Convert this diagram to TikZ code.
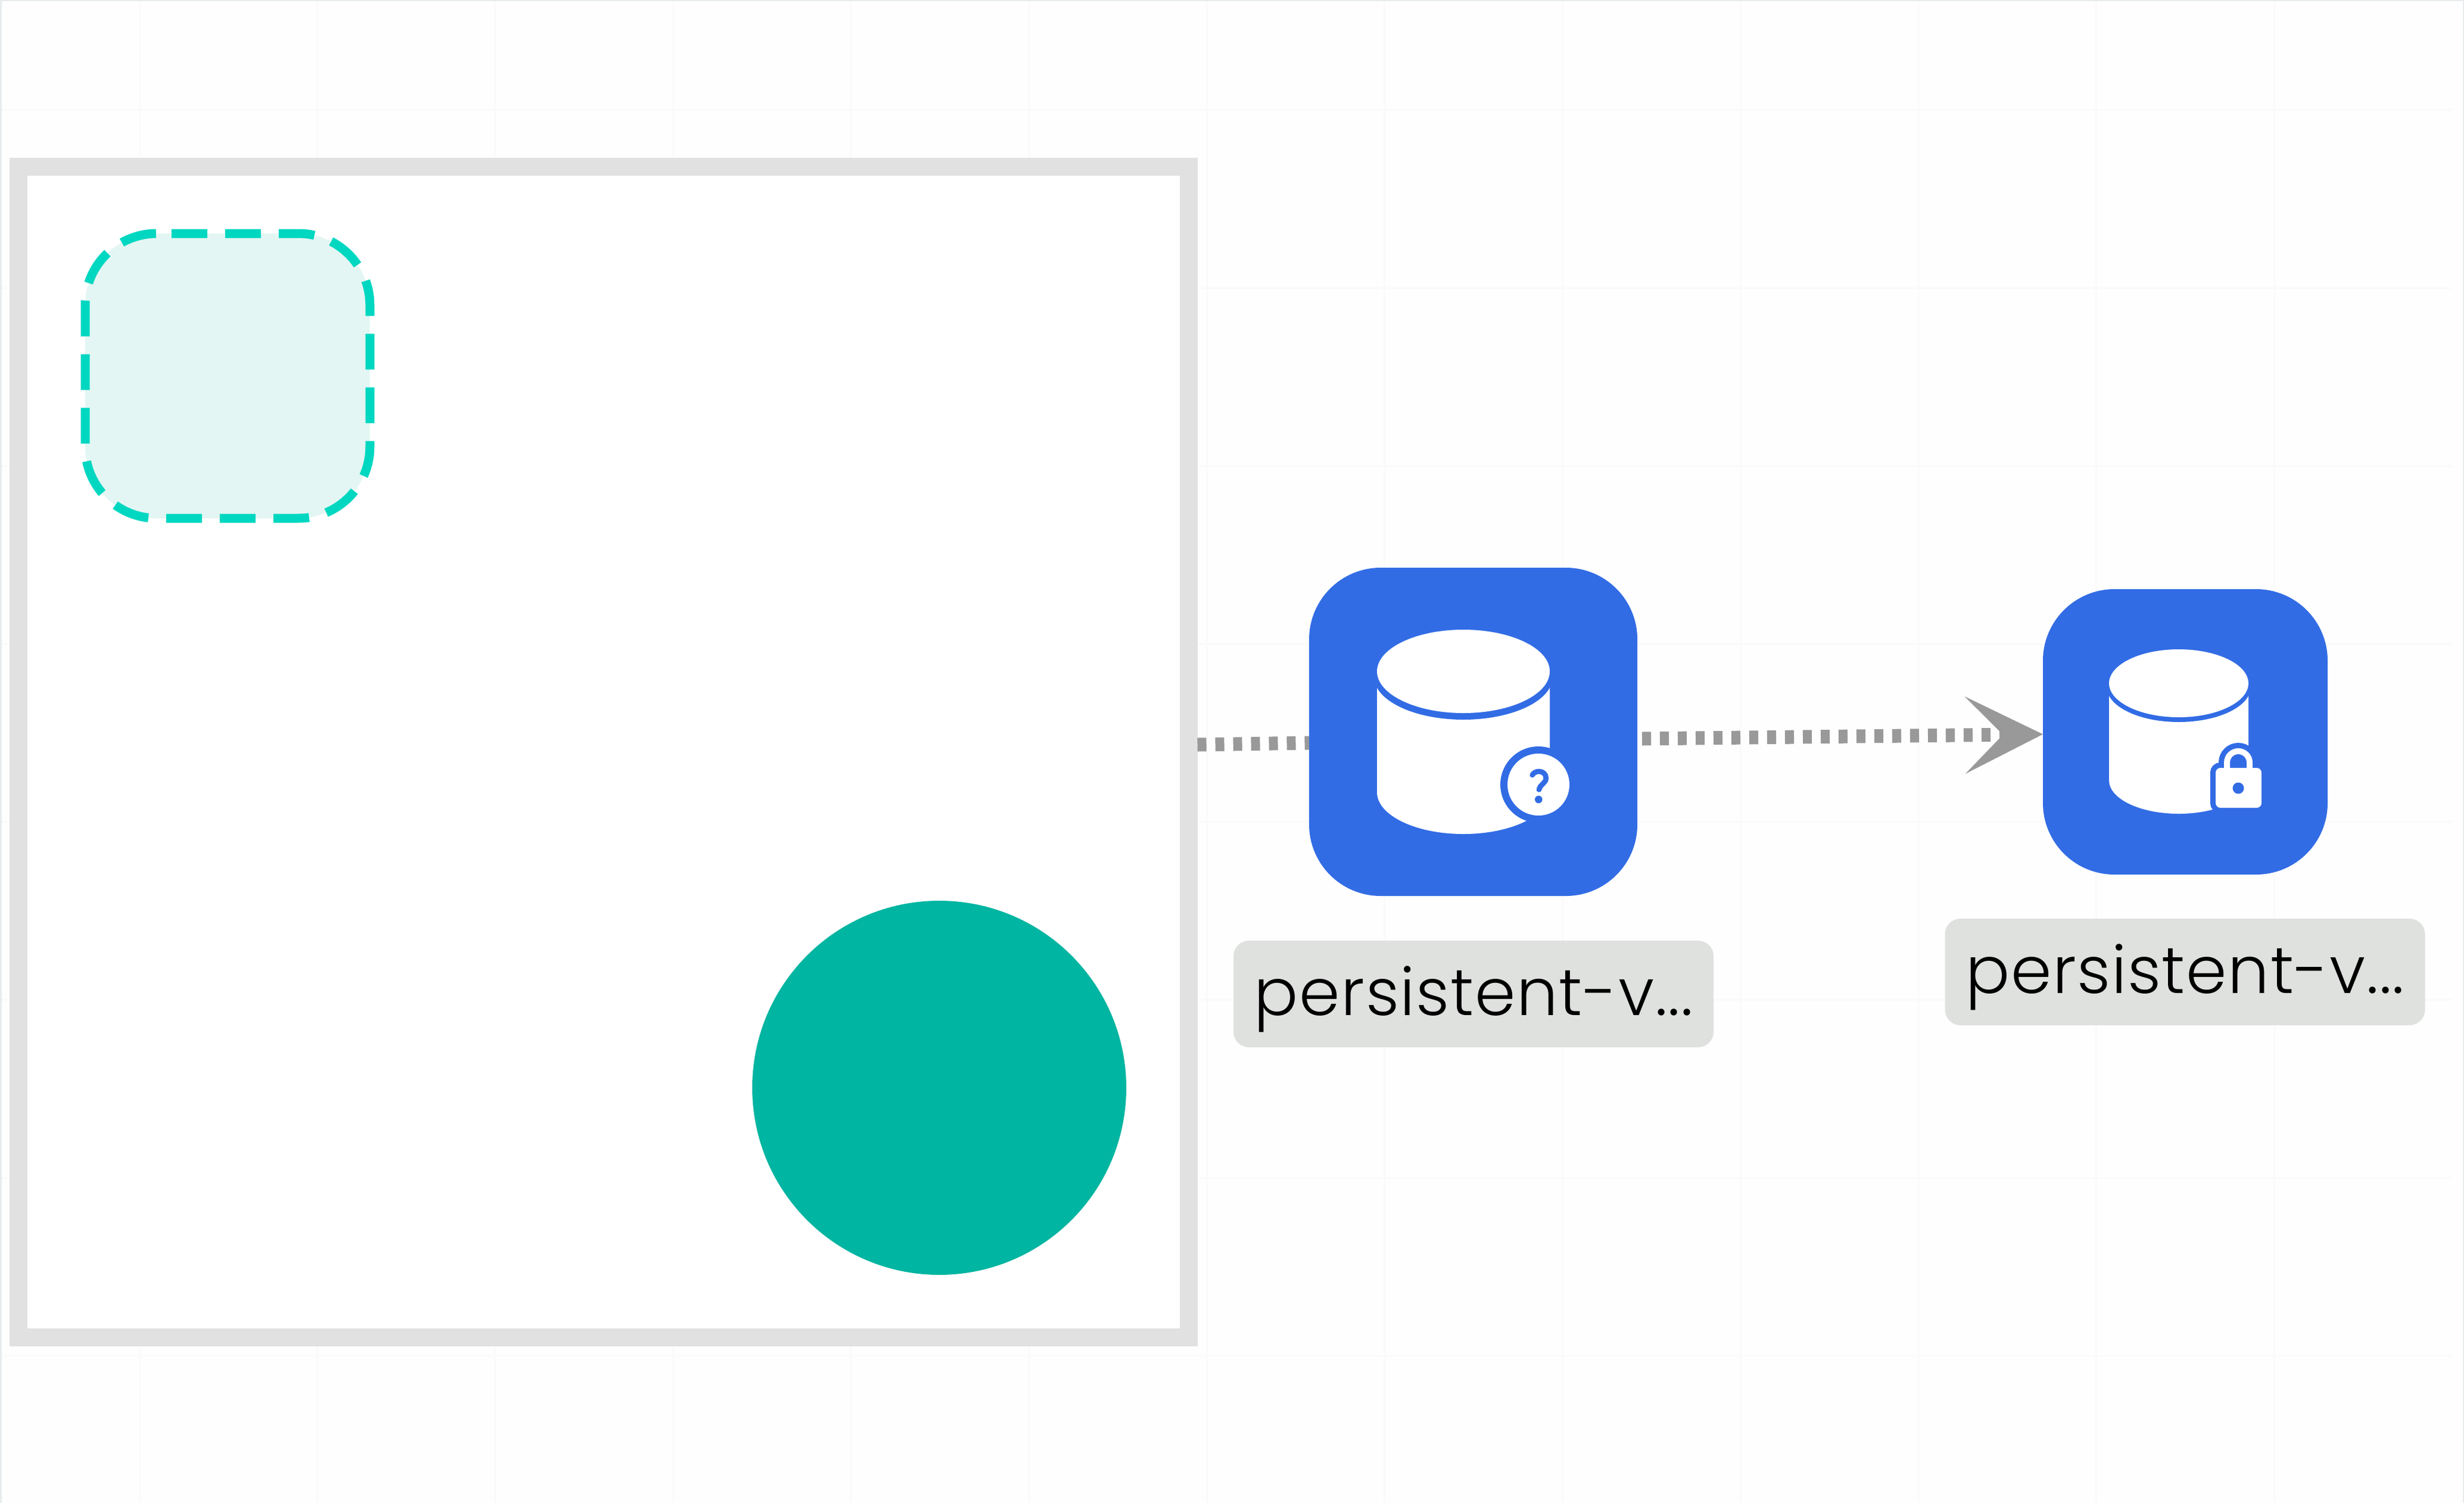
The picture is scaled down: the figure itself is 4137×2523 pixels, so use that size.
\documentclass[tikz,border=0pt]{standalone}
\usepackage{fontspec}
\usetikzlibrary{arrows.meta,calc}
\newfontfamily\labfont[LetterSpace=1.5]{Poppins Light}
\definecolor{kblue}{HTML}{326CE5}
\definecolor{labgrey}{HTML}{DFE1DF}
\definecolor{framegrey}{HTML}{E1E1E1}
\definecolor{tealfill}{HTML}{00B5A1}
\definecolor{groupfill}{HTML}{E3F6F3}
\definecolor{groupline}{HTML}{00D7C1}
\definecolor{conngrey}{HTML}{999999}
\definecolor{gridline}{HTML}{FAFAFA}
\definecolor{pagebg}{HTML}{FEFEFE}
\definecolor{pageedge}{HTML}{E8ECEE}
\tikzset{
  x=1pt,y=-1pt,
  every node/.style={inner sep=0pt,outer sep=0pt},
  pvbox/.style={rectangle,rounded corners=120pt,fill=kblue},
  pvlabel/.style={rectangle,rounded corners=26pt,fill=labgrey,minimum width=806pt,minimum height=179pt,
    text height=100pt,text depth=28pt,font=\labfont\fontsize{110}{120}\selectfont,text=black},
  conn/.style={draw=conngrey,line width=23pt,dash pattern=on 15pt off 15pt},
  gridrule/.style={draw=gridline,line width=3pt}
}
\begin{document}
\begin{tikzpicture}
\useasboundingbox (0,0) rectangle (4137,2523);
\fill[pagebg] (0,0) rectangle (4137,2523);
% background grid
\foreach \k in {0,...,12} \draw[gridrule] ({234+298.7*\k},0) -- ({234+298.7*\k},2523);
\foreach \k in {0,...,7} \draw[gridrule] (2,{185+298.7*\k}) -- (4117,{185+298.7*\k});
\draw[draw=pageedge,line width=3pt] (1,2523) -- (1,1) -- (4136,1) -- (4136,2523);
% container frame
\node[rectangle,draw=framegrey,line width=30pt,fill=white,minimum width=1965pt,minimum height=1965pt] (frame) at (1013.5,1262.5) {};
% dashed group
\draw[fill=groupfill,draw=groupline,line width=15pt,dash pattern=on 60pt off 30pt]
  (288,392) -- (501,392) arc[start angle=90,end angle=0,radius=120pt]
  -- (621,750) arc[start angle=0,end angle=-90,radius=120pt]
  -- (263,870) arc[start angle=270,end angle=180,radius=120pt]
  -- (143,512) arc[start angle=180,end angle=90,radius=120pt]
  -- (288,392);
% teal circle
\node[circle,fill=tealfill,minimum size=628pt] (pod) at (1577,1826) {};
% icon boxes
\coordinate (pvonec) at (2473.5,1228.5);
\coordinate (pvtwoc) at (3669,1228.5);
\node[pvbox,minimum width=551pt,minimum height=551pt] (pv1) at (pvonec) {};
\node[pvbox,minimum width=478pt,minimum height=479pt] (pv2) at (pvtwoc) {};
% connectors
\draw[conn] ($(frame.east)+(14.5,-12.5)$) -- ($(pv1.west)+(0,18.5)$);
\draw[conn,-{Stealth[length=131pt,width=130pt,inset=64pt,line width=0pt,fill=conngrey]}]
  ($(pv1.east)+(8,11.5)$) -- ($(pv2.west)+(0,4)$);
% cylinder 1 with question badge
\fill[white] (2312,1138) -- (2312,1330) arc[start angle=180,end angle=360,x radius=145pt,y radius=70pt] -- (2602,1138) -- cycle;
\fill[kblue] (2457,1136) ellipse[x radius=150pt,y radius=72pt];
\fill[white] (2457,1127) ellipse[x radius=145pt,y radius=70pt];
\fill[kblue] (2583,1317) circle[radius=64pt];
\fill[white] (2583,1317) circle[radius=52pt];
\draw[kblue,line width=8.7pt,line cap=round]
  (2572.7,1301) .. controls (2575,1297) and (2579,1295) .. (2584,1295)
  .. controls (2591,1295) and (2595.7,1300) .. (2595.7,1306)
  .. controls (2595.7,1315) and (2586,1316) .. (2584,1325.5);
\fill[kblue] (2583.3,1342) circle[radius=6.3pt];
% cylinder 2 with lock badge
\fill[white] (3541,1153) -- (3541,1310) arc[start angle=180,end angle=360,x radius=117pt,y radius=56pt] -- (3775,1153) -- cycle;
\fill[kblue] (3658,1153) ellipse[x radius=121pt,y radius=59pt];
\fill[white] (3658,1147) ellipse[x radius=117pt,y radius=57pt];
\draw[kblue,fill=kblue,line width=18pt,rounded corners=8pt] (3720,1289) rectangle (3797,1356);
\draw[kblue,fill=kblue,line width=28pt] (3739,1295) -- (3739,1280) arc[start angle=180,end angle=0,radius=19pt] -- (3777,1295);
\draw[white,line width=10pt] (3739,1295) -- (3739,1280) arc[start angle=180,end angle=0,radius=19pt] -- (3777,1295);
\fill[white,rounded corners=8pt] (3720,1289) rectangle (3797,1356);
\fill[kblue] (3758,1323) circle[radius=9.5pt];
% labels
\node[pvlabel] (lab1) at (2474,1668.5) {persistent-v...};
\node[pvlabel] (lab2) at (3668.5,1631.5) {persistent-v...};
\end{tikzpicture}
\end{document}
